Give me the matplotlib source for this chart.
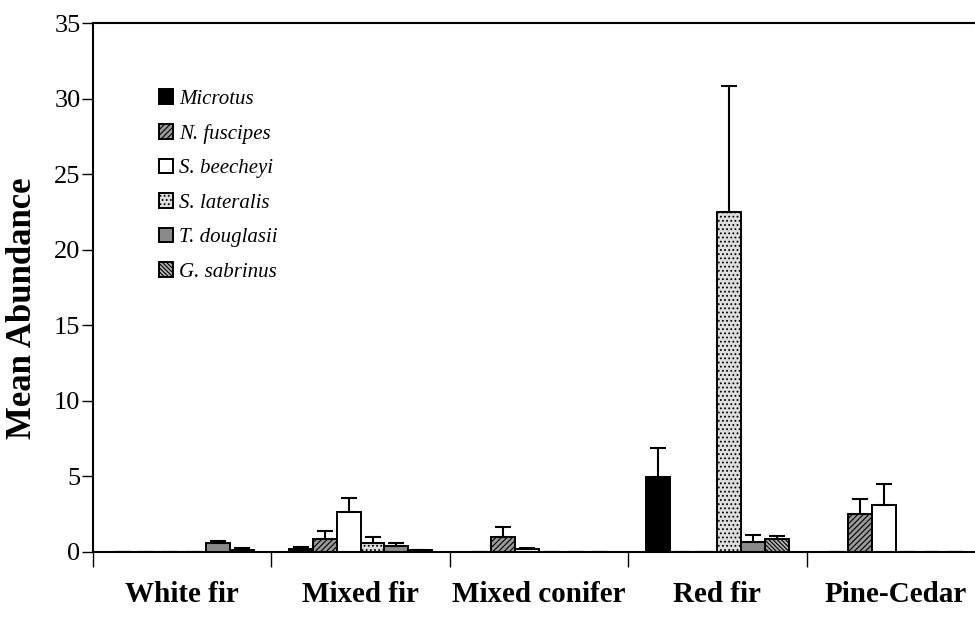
import numpy as np
import matplotlib
matplotlib.use('Agg')
import matplotlib.pyplot as plt

plt.rcParams['font.family'] = ['Liberation Serif', 'DejaVu Serif']
plt.rcParams['hatch.linewidth'] = 0.8

# ==================== data ====================
habitats = ['White fir', 'Mixed fir', 'Mixed conifer', 'Red fir', 'Pine-Cedar']
species = ['Microtus', 'N. fuscipes', 'S. beecheyi', 'S. lateralis',
           'T. douglasii', 'G. sabrinus']

microtus = [0, 0.2, 0, 4.93, 0]
n_fuscipes = [0, 0.85, 0.98, 0, 2.51]
s_beecheyi = [0, 2.67, 0.18, 0, 3.08]
s_lateralis = [0, 0.57, 0, 22.5, 0]
t_douglasii = [0.57, 0.42, 0, 0.68, 0]
g_sabrinus = [0.15, 0.1, 0, 0.84, 0]

# upper error bar only (SE)
microtus_err = [0, 0.1, 0, 1.98, 0]
n_fuscipes_err = [0, 0.55, 0.7, 0, 1.0]
s_beecheyi_err = [0, 0.88, 0.1, 0, 1.41]
s_lateralis_err = [0, 0.41, 0, 8.3, 0]
t_douglasii_err = [0.13, 0.15, 0, 0.44, 0]
g_sabrinus_err = [0.13, 0.02, 0, 0.24, 0]

values = [microtus, n_fuscipes, s_beecheyi, s_lateralis, t_douglasii, g_sabrinus]
errors = [microtus_err, n_fuscipes_err, s_beecheyi_err, s_lateralis_err,
          t_douglasii_err, g_sabrinus_err]

# ==================== styles ====================
styles = [
    dict(color='black', hatch=None),
    dict(color='#9a9a9a', hatch='//////'),
    dict(color='white', hatch=None),
    dict(color='#dedede', hatch='....'),
    dict(color='#8a8a8a', hatch=None),
    dict(color='#b0b0b0', hatch='\\\\\\\\\\\\\\\\'),
]

fig = plt.figure(figsize=(9.75, 6.2), dpi=100)
ax = fig.add_axes([93 / 975, 68 / 620, 892 / 975, 529 / 620])

x = np.arange(len(habitats))
w = 0.1335
for i, (name, vals, errs, st) in enumerate(zip(species, values, errors, styles)):
    pos = x + (i - 2.5) * w
    ax.bar(pos, vals, width=w, color=st['color'], hatch=st['hatch'],
           edgecolor='black', linewidth=1.4, label=name, zorder=2)
    ax.errorbar(pos, vals, yerr=[np.zeros(len(vals)), errs], fmt='none',
                ecolor='black', elinewidth=1.5, capsize=6, capthick=1.5, zorder=3)

ax.set_xlim(-0.5, 4.5)
ax.set_ylim(0, 35)
ax.set_yticks(range(0, 36, 5))
ax.tick_params(axis='y', direction='out', length=8, width=1, labelsize=19, pad=1)

ax.set_xticks(np.arange(-0.5, 5.0, 1.0))
ax.set_xticklabels([])
ax.tick_params(axis='x', which='major', direction='out', length=11, width=1)
ax.set_xticks(x, minor=True)
ax.set_xticklabels(habitats, minor=True, fontsize=21, fontweight='bold')
ax.tick_params(axis='x', which='minor', length=0, pad=21)

ax.set_ylabel('Mean Abundance', fontsize=25, fontweight='bold')
ax.yaxis.set_label_coords(-0.06, 0.46)

for s in ['left', 'bottom', 'top']:
    ax.spines[s].set_linewidth(1.5)
ax.spines['right'].set_visible(False)

leg = ax.legend(loc='upper left', bbox_to_anchor=(0.152, 0.873),
                bbox_transform=fig.transFigure, frameon=False,
                prop=dict(family='Liberation Serif', style='italic', size=15),
                handlelength=0.7, handleheight=0.7, handletextpad=0.3,
                labelspacing=0.72, borderpad=0)

plt.savefig('out.png', dpi=100)
